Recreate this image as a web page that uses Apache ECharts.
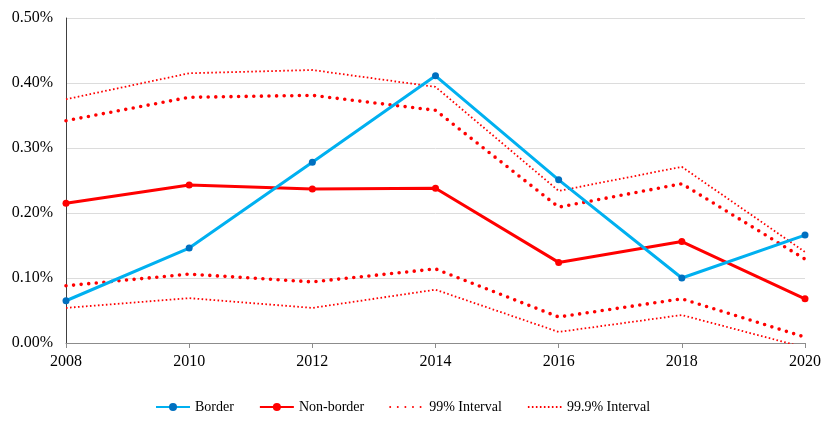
<!DOCTYPE html>
<html><head><meta charset="utf-8">
<script src="https://cdn.jsdelivr.net/npm/echarts@6/dist/echarts.min.js"></script>
<style>html,body{margin:0;padding:0;background:#fff}#c{width:831px;height:433px}</style>
</head><body><div id="c"></div>
<script>
const years = ['2008','2010','2012','2014','2016','2018','2020'];
const border = [0.065, 0.146, 0.278, 0.411, 0.251, 0.100, 0.166];
const nonBorder = [0.215, 0.243, 0.237, 0.238, 0.124, 0.156, 0.068];
const ci99Upper = [0.342, 0.378, 0.381, 0.358, 0.209, 0.245, 0.129];
const ci99Lower = [0.088, 0.106, 0.094, 0.114, 0.040, 0.068, 0.009];
const ci999Upper = [0.375, 0.415, 0.420, 0.394, 0.234, 0.271, 0.140];
const ci999Lower = [0.054, 0.069, 0.054, 0.082, 0.017, 0.043, -0.007];
const yTicks = [0, 0.1, 0.2, 0.3, 0.4, 0.5];

const font = 'Liberation Serif, Times New Roman, serif';
const chart = echarts.init(document.getElementById('c'));
const dot99 = {color:'#FF0000', width:3.6, type:[0,7.6], cap:'round'};
const dot999 = {color:'#FF0000', width:1.8, type:[1.6,2.4], cap:'butt'};
chart.setOption({
  animation:false,
  textStyle:{fontFamily:font},
  grid:{left:66, right:26, top:18, bottom:90},
  legend:{
    bottom:14, left:150, itemWidth:34, itemHeight:10, itemGap:25,
    textStyle:{fontFamily:font, fontSize:14, color:'#000'},
    data:['Border','Non-border',
      {name:'99% Interval', itemStyle:{opacity:0}},
      {name:'99.9% Interval', itemStyle:{opacity:0}}]
  },
  xAxis:{
    type:'category', data:years, boundaryGap:false,
    axisLine:{lineStyle:{color:'#8c8c8c', width:1}},
    axisTick:{show:true, length:5, lineStyle:{color:'#8c8c8c'}},
    axisLabel:{color:'#000', fontSize:16, fontFamily:font, margin:11, showMaxLabel:true, showMinLabel:true}
  },
  yAxis:{
    type:'value', min:yTicks[0], max:yTicks[yTicks.length-1], interval:0.1,
    axisLine:{show:true, lineStyle:{color:'#404040', width:1}},
    axisTick:{show:false},
    splitLine:{lineStyle:{color:'#dcdcdc', width:1}},
    axisLabel:{color:'#000', fontSize:16, fontFamily:font, margin:13,
      formatter:v=>v.toFixed(2)+'%'}
  },
  series:[
    {name:'99.9% Interval', type:'line', data:ci999Upper, symbol:'none', lineStyle:dot999, itemStyle:{color:'#FF0000'}},
    {name:'99.9% Interval', type:'line', data:ci999Lower, symbol:'none', lineStyle:dot999, itemStyle:{color:'#FF0000'}},
    {name:'99% Interval', type:'line', data:ci99Upper, symbol:'none', lineStyle:dot99, itemStyle:{color:'#FF0000'}},
    {name:'99% Interval', type:'line', data:ci99Lower, symbol:'none', lineStyle:dot99, itemStyle:{color:'#FF0000'}},
    {name:'Non-border', type:'line', data:nonBorder, symbol:'circle', symbolSize:7,
      lineStyle:{color:'#FF0000', width:3}, itemStyle:{color:'#FF0000'}},
    {name:'Border', type:'line', data:border, symbol:'circle', symbolSize:7,
      lineStyle:{color:'#00B0F0', width:3}, itemStyle:{color:'#0070C0'}}
  ]
});
</script></body></html>
